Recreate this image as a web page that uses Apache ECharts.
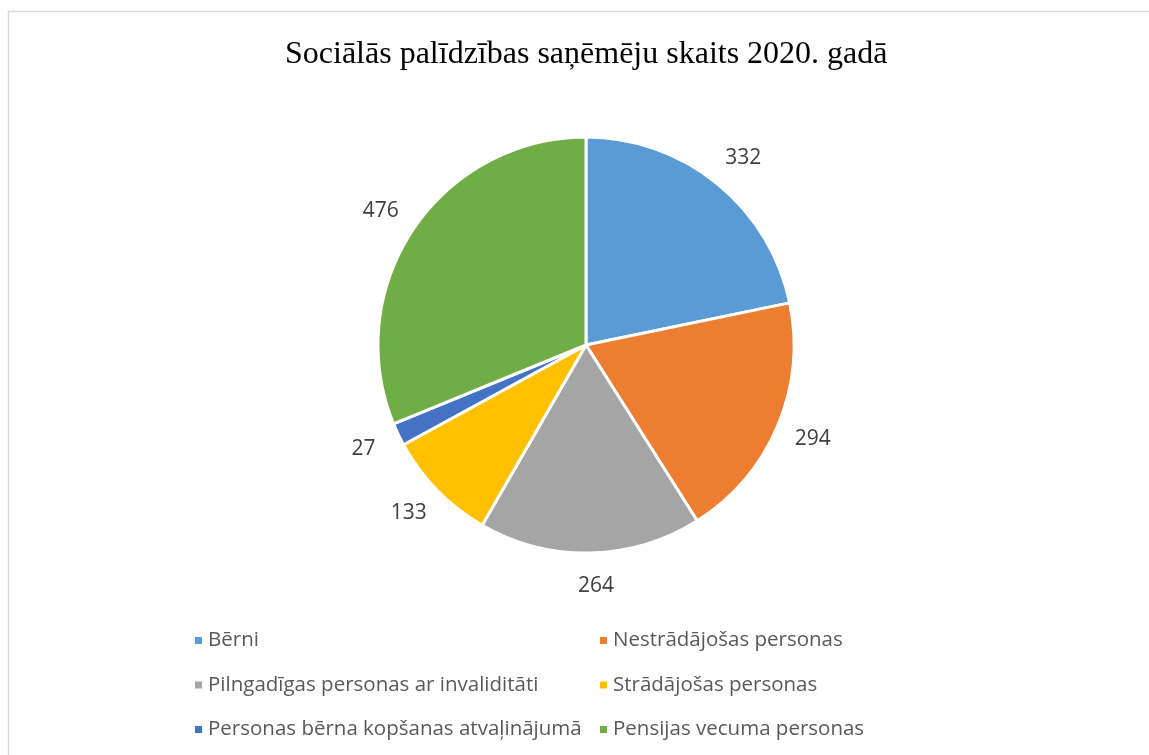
<!DOCTYPE html>
<html><head><meta charset="utf-8">
<script src="https://cdn.jsdelivr.net/npm/echarts@6/dist/echarts.min.js"></script>
<style>html,body{margin:0;padding:0;background:#fff;}#c{width:1149px;height:755px;}</style>
</head><body><div id="c"></div>
<script>
const title = 'Sociālās palīdzības saņēmēju skaits 2020. gadā';
const categories = ['Bērni','Nestrādājošas personas','Pilngadīgas personas ar invaliditāti','Strādājošas personas','Personas bērna kopšanas atvaļinājumā','Pensijas vecuma personas'];
const values = [332, 294, 264, 133, 27, 476];
const colors = ['#5B9BD5','#ED7D31','#A5A5A5','#FFC000','#4472C4','#70AD47'];

const chart = echarts.init(document.getElementById('c'));
const legendText = {fontFamily:'Open Sans, Noto Sans, sans-serif', fontSize:20.5, color:'#595959'};
chart.setOption({
  animation:false,
  backgroundColor:'#fff',
  graphic:[{type:'rect', shape:{x:8.5,y:11.5,width:1160,height:760}, style:{fill:'none', stroke:'#d9d9d9', lineWidth:1.5}, silent:true}],
  title:{text:title, left:280, top:34, textStyle:{fontFamily:'Liberation Serif, Times New Roman, serif', fontSize:32, fontWeight:'normal', color:'#000'}},
  legend:[
    {data:[categories[0],categories[2],categories[4]], orient:'vertical', left:188, top:625, itemWidth:9, itemHeight:9, itemGap:23.5, icon:'rect', textStyle:legendText},
    {data:[categories[1],categories[3],categories[5]], orient:'vertical', left:593, top:625, itemWidth:9, itemHeight:9, itemGap:23.5, icon:'rect', textStyle:legendText}
  ],
  series:[{
    type:'pie', center:[586,345], radius:208, startAngle:90, clockwise:true,
    data: categories.map((n,i)=>({name:n, value:values[i], itemStyle:{color:colors[i]}})),
    itemStyle:{borderColor:'#fff', borderWidth:3},
    label:{show:true, position:'outside', formatter:'{c}', fontFamily:'Open Sans, Noto Sans, sans-serif', fontSize:21, color:'#404040'},
    labelLine:{show:false, length:33, length2:0},
    labelLayout:function(){ return {align:'center', verticalAlign:'middle'}; },
    emphasis:{disabled:true}
  }]
});
</script></body></html>
